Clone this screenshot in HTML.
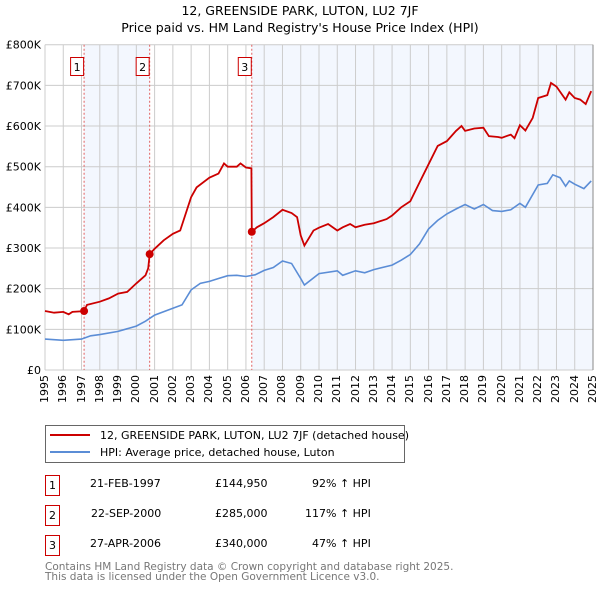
<!DOCTYPE html>
<html><head><meta charset="utf-8">
<style>
body{margin:0;background:#fff;font-family:"DejaVu Sans","Liberation Sans",sans-serif;position:relative;width:600px;height:590px;overflow:hidden}
svg{display:block}
.xl{position:absolute;font-size:11px;line-height:12px;writing-mode:vertical-rl;transform:rotate(180deg);white-space:nowrap;color:#000}
</style></head>
<body>
<svg width="600" height="590" xmlns="http://www.w3.org/2000/svg" font-family="DejaVu Sans, Liberation Sans, sans-serif">
<text x="300" y="15" text-anchor="middle" font-size="12.5">12, GREENSIDE PARK, LUTON, LU2 7JF</text>
<text x="300" y="32" text-anchor="middle" font-size="12.5">Price paid vs. HM Land Registry's House Price Index (HPI)</text>
<g id="plot"></g>
<g>
<rect x="45.5" y="425.5" width="359" height="37" fill="#fff" stroke="#666"/>
<line x1="50" y1="435" x2="90" y2="435" stroke="#cc0000" stroke-width="2"/>
<text x="100" y="439" font-size="11">12, GREENSIDE PARK, LUTON, LU2 7JF (detached house)</text>
<line x1="50" y1="452" x2="90" y2="452" stroke="#5b8dd6" stroke-width="2"/>
<text x="100" y="456" font-size="11">HPI: Average price, detached house, Luton</text>
</g>
<g font-size="11">
<rect x="45.5" y="475.5" width="14" height="20" fill="#fff" stroke="#cc0000"/><text x="52.5" y="489" text-anchor="middle">1</text>
<text x="90" y="487">21-FEB-1997</text><text x="215" y="487">£144,950</text><text x="312" y="487">92% ↑ HPI</text>
<rect x="45.5" y="505.5" width="14" height="20" fill="#fff" stroke="#cc0000"/><text x="52.5" y="519" text-anchor="middle">2</text>
<text x="91" y="517">22-SEP-2000</text><text x="215" y="517">£285,000</text><text x="305" y="517">117% ↑ HPI</text>
<rect x="45.5" y="535.5" width="14" height="20" fill="#fff" stroke="#cc0000"/><text x="52.5" y="549" text-anchor="middle">3</text>
<text x="90" y="547">27-APR-2006</text><text x="215" y="547">£340,000</text><text x="312" y="547">47% ↑ HPI</text>
</g>
<text x="45" y="570" font-size="10.5" fill="#777">Contains HM Land Registry data © Crown copyright and database right 2025.</text>
<text x="45" y="580" font-size="10.5" fill="#777">This data is licensed under the Open Government Licence v3.0.</text>
</svg>
<script>
const yTicks=[0,100,200,300,400,500,600,700,800];
const yTickLabels=["£0","£100K","£200K","£300K","£400K","£500K","£600K","£700K","£800K"];
const years=[1995,1996,1997,1998,1999,2000,2001,2002,2003,2004,2005,2006,2007,2008,2009,2010,2011,2012,2013,2014,2015,2016,2017,2018,2019,2020,2021,2022,2023,2024,2025];
const saleDates=[1997.14,2000.73,2006.32];
const salePrices=[144.95,285,340];
const saleLabels=["1","2","3"];
const hpiX=[1995,1996,1997,1997.5,1998,1999,2000,2000.5,2001,2002,2002.5,2003,2003.5,2004,2004.5,2005,2005.5,2006,2006.5,2007,2007.5,2008,2008.5,2009,2009.2,2010,2011,2011.3,2012,2012.5,2013,2014,2014.5,2015,2015.5,2016,2016.5,2017,2017.5,2018,2018.5,2019,2019.5,2020,2020.5,2021,2021.3,2022,2022.5,2022.8,2023.2,2023.5,2023.7,2024,2024.5,2024.9];
const hpiY=[76,73,76,84,87,95,108,120,135,152,160,197,213,218,225,232,233,230,234,245,252,268,262,225,209,237,244,233,244,239,247,258,270,284,310,347,368,384,396,407,396,407,392,390,394,410,400,455,459,480,473,452,465,457,446,465];
const redX=[1995,1995.5,1996,1996.3,1996.5,1997.14,1997.3,1998,1998.5,1999,1999.5,2000,2000.5,2000.65,2000.73,2001,2001.5,2002,2002.4,2003,2003.3,2004,2004.5,2004.8,2005,2005.5,2005.7,2006,2006.3,2006.32,2006.6,2007,2007.5,2008,2008.5,2008.8,2009,2009.2,2009.7,2010,2010.5,2011,2011.3,2011.7,2012,2012.5,2013,2013.7,2014,2014.5,2015,2015.5,2016,2016.5,2017,2017.5,2017.8,2018,2018.5,2019,2019.3,2019.8,2020,2020.5,2020.7,2021,2021.3,2021.7,2022,2022.5,2022.7,2023,2023.5,2023.7,2024,2024.3,2024.6,2024.9];
const redY=[145,141,143,137,143,144.95,160,168,176,188,192,213,233,250,285,298,319,335,343,425,449,473,483,508,500,500,508,498,496,340,351,361,376,394,386,376,331,306,343,350,359,343,351,359,351,357,361,371,380,400,415,461,506,551,563,588,600,588,594,596,575,573,571,579,570,602,589,620,669,676,706,697,665,683,669,665,654,686];

const NS="http://www.w3.org/2000/svg";
const L=45,R=593,T=44.7,B=370;
const xs=v=>L+(v-1995)/30*(R-L);
const ys=v=>B-v/800*(B-T);
const g=document.getElementById('plot');
function mk(tag,attrs,parent){const e=document.createElementNS(NS,tag);for(const k in attrs)e.setAttribute(k,attrs[k]);(parent||g).appendChild(e);return e;}
const s1=mk('rect',{x:xs(saleDates[0]),y:T,width:xs(saleDates[1])-xs(saleDates[0]),height:B-T,fill:'#eef3fd',opacity:0.7});


const s2=mk('rect',{x:xs(saleDates[2]),y:T,width:R-xs(saleDates[2]),height:B-T,fill:'#eef3fd',opacity:0.7});


years.forEach((yr,i)=>{
  const gl=mk('line',{x1:xs(yr),x2:xs(yr),y1:T,y2:B,stroke:'#ccc','stroke-width':1});
  
  
  const d=document.createElement('div');
  d.className='xl';
  d.style.left=(xs(yr)-6)+'px';
  d.style.top=(B+5)+'px';
  d.textContent=String(yr);
  
  
  document.body.appendChild(d);
});
yTicks.forEach((v,i)=>{
  const gl=mk('line',{x1:L,x2:R,y1:ys(v),y2:ys(v),stroke:'#ccc','stroke-width':1});
  
  
  const t=mk('text',{x:L-4,y:ys(v)+4,'font-size':11,'text-anchor':'end'});
  t.textContent=yTickLabels[i];
  
  
});
const ax=mk('line',{x1:R,x2:R,y1:T,y2:B,stroke:'#888','stroke-width':1});


saleDates.forEach((d,i)=>{
  const vl=mk('line',{x1:xs(d),x2:xs(d),y1:T,y2:B,stroke:'#e06060','stroke-width':1,'stroke-dasharray':'2,2'});
  
  
  const bx=mk('rect',{x:xs(d)-13.5,y:57.5,width:13,height:18,fill:'#fff',stroke:'#cc0000'});
  
  
  const t=mk('text',{x:xs(d)-7,y:71,'font-size':11,'text-anchor':'middle'});
  t.textContent=saleLabels[i];
  
  
});
const hp=mk('path',{d:hpiX.map((x,i)=>(i?'L':'M')+xs(x).toFixed(1)+','+ys(hpiY[i]).toFixed(1)).join(''),fill:'none',stroke:'#5b8dd6','stroke-width':1.6});


const rp=mk('path',{d:redX.map((x,i)=>(i?'L':'M')+xs(x).toFixed(1)+','+ys(redY[i]).toFixed(1)).join(''),fill:'none',stroke:'#cc0000','stroke-width':1.8});


saleDates.forEach((d,i)=>{
  const c=mk('circle',{cx:xs(d),cy:ys(salePrices[i]),r:4,fill:'#cc0000'});
  
  
});
</script>
</body></html>
